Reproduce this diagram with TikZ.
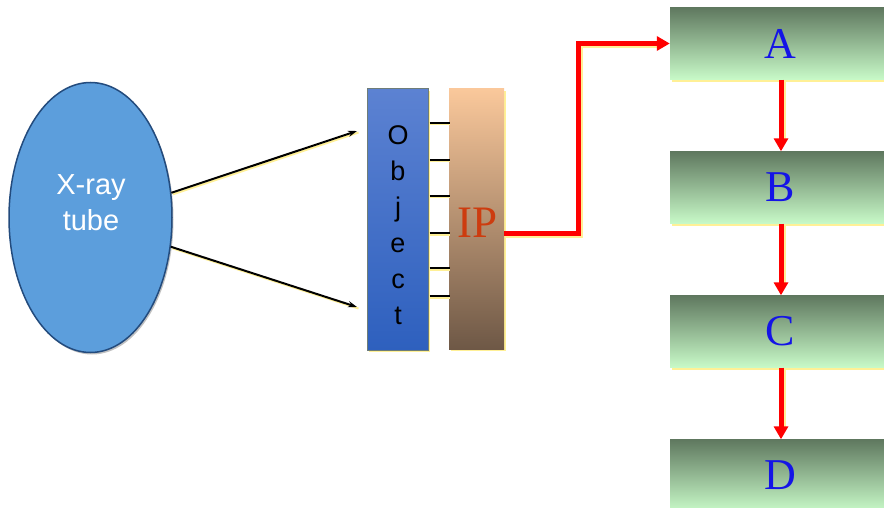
\documentclass[tikz,border=0pt]{standalone}
\usepackage{fontspec}
\setmainfont{Liberation Serif}
\setsansfont{Liberation Sans}
\usetikzlibrary{shapes.geometric,arrows.meta,shadows,shadings}
\definecolor{tubeblue}{RGB}{92,158,220}
\definecolor{tubeedge}{RGB}{35,75,125}
\definecolor{objtop}{RGB}{92,130,210}
\definecolor{objbot}{RGB}{46,96,190}
\definecolor{objedge}{RGB}{110,125,120}
\definecolor{iptop}{RGB}{250,200,155}
\definecolor{ipbot}{RGB}{110,88,70}
\definecolor{iptext}{RGB}{205,60,15}
\definecolor{boxtop}{RGB}{95,120,95}
\definecolor{boxbot}{RGB}{200,250,200}
\definecolor{glow}{RGB}{255,240,150}
\definecolor{letterblue}{RGB}{20,20,230}
\tikzset{
  stagebox/.style={rectangle, minimum width=220pt, minimum height=72pt, inner sep=0pt,
    top color=boxtop, bottom color=boxbot, draw=none,
    drop shadow={shadow xshift=2pt, shadow yshift=-2.5pt, fill=glow, opacity=1},
    font=\fontsize{44}{48}\selectfont, text=letterblue},
  redarrow/.style={draw=red, line width=5pt, -{Triangle[length=13pt,width=14pt]}},
  redglow/.style={draw=glow, line width=5pt},
  blackarrow/.style={draw=black, line width=2pt, -{Stealth[length=9pt,width=6pt]}},
  objletter/.style={anchor=base, font=\sffamily\fontsize{27}{30}\selectfont, text=black, inner sep=0pt},
  tick/.style={draw=black, line width=2pt}
}
\begin{document}
\begin{tikzpicture}[x=1pt,y=-1pt]
\useasboundingbox[fill=white] (0,0) rectangle (884,508);

% X-ray tube
\node[ellipse, minimum width=163pt, minimum height=270pt, inner sep=0pt,
  fill=tubeblue, draw=tubeedge, line width=1.5pt,
  drop shadow={shadow xshift=1.5pt, shadow yshift=-2pt, fill=black!40, opacity=0.6}]
  (tube) at (90.5,217.5) {};
\node[align=center, text=white, inner sep=0pt, font=\sffamily\fontsize{29}{36}\selectfont]
  (tubetxt) at (91,203) {X-ray\\tube};

% Object and IP
\node[rectangle, minimum width=61pt, minimum height=261pt, inner sep=0pt,
  top color=objtop, bottom color=objbot, draw=objedge, line width=1pt,
  drop shadow={shadow xshift=2pt, shadow yshift=-2pt, fill=glow, opacity=1}]
  (obj) at (397.5,219.5) {};
\node[rectangle, minimum width=55pt, minimum height=260pt, inner sep=0pt,
  top color=iptop, bottom color=ipbot, draw=none,
  drop shadow={shadow xshift=2pt, shadow yshift=-2pt, fill=glow, opacity=1}]
  (ip) at (476.5,219) {};
\node[anchor=base, inner sep=0pt, text=iptext, font=\fontsize{45}{48}\selectfont]
  (iptxt) at (478,237) {IP};

\foreach \l/\y [count=\i] in {O/145,b/181,j/216,e/252,c/288,t/324}
  \node[objletter] (obj\i) at (398,\y) {\l};

% ticks between Object and IP
\foreach \y [count=\i] in {123,160,196,233,268,296}{
  \draw[draw=glow, line width=2pt] ([xshift=1.5pt]obj.east |- 0,\y+1.5) -- ([xshift=1.5pt]ip.west |- 0,\y+1.5);
  \draw[tick] ([xshift=1pt]obj.east |- 0,\y) -- ([xshift=1pt]ip.west |- 0,\y);
}

% rays
\coordinate (r1) at (357,131);
\coordinate (r2) at (357,307);
\draw[draw=glow, line width=2pt] ([shift={(1.5,1.5)}]tube.17) -- ([shift={(1.5,1.5)}]r1);
\draw[draw=glow, line width=2pt] ([shift={(1.5,1.5)}]tube.-20) -- ([shift={(1.5,1.5)}]r2);
\draw[blackarrow] (tube.17) -- (r1);
\draw[blackarrow] (tube.-20) -- (r2);

% stage boxes
\node[stagebox] (A) at (780,43.5) {A};
\node[stagebox] (B) at (780,187.5) {B};
\node[stagebox] (C) at (780,331.5) {C};
\node[stagebox] (D) at (780,475.5) {D};

% red connectors
\coordinate (ipout) at (504,233);
\coordinate (bend) at (578,233);
\draw[redglow] ([shift={(2,2)}]ipout) -- ([shift={(2,2)}]bend) |- ([shift={(-12,2)}]A.west);
\draw[redarrow] (ipout) -- (bend) |- (A.west);
\foreach \a/\b in {A/B,B/C,C/D}{
  \draw[redglow] ([shift={(2,0)}]\a.south -| 781,0) -- ([shift={(2,-10)}]\b.north -| 781,0);
  \draw[redarrow] (\a.south -| 781,0) -- (\b.north -| 781,0);
}
\end{tikzpicture}
\end{document}
